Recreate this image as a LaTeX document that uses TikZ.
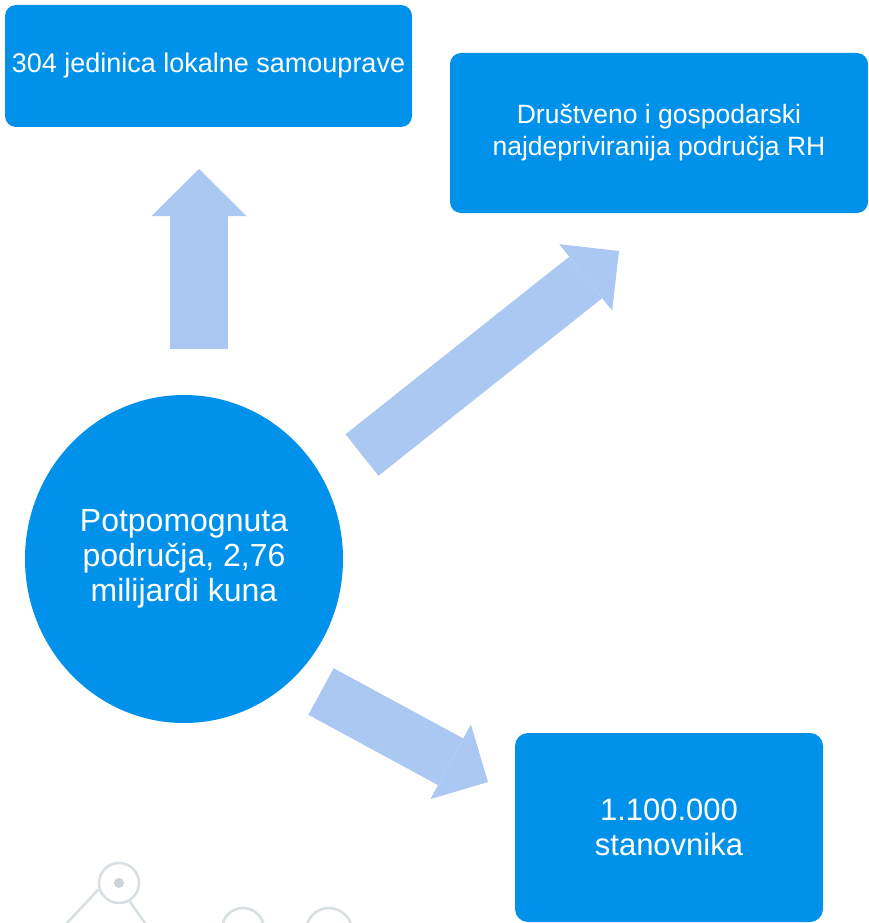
\documentclass[tikz,border=0pt]{standalone}
\usepackage{fontspec}
\setmainfont{Liberation Sans}
\usetikzlibrary{shapes.geometric,arrows.meta}
\definecolor{boxblue}{RGB}{0,145,234}
\definecolor{arrowblue}{RGB}{171,200,242}
\definecolor{decogray}{RGB}{216,223,227}
\definecolor{dotgray}{RGB}{205,213,218}
\begin{document}
\begin{tikzpicture}[x=1pt,y=-1pt,
		box/.style={rectangle, rounded corners=11pt, fill=boxblue, text=white, align=center, inner sep=0pt},
		hub/.style={ellipse, fill=boxblue, text=white, align=center, inner sep=0pt},
		fatarrow/.style={draw=arrowblue, line width=53pt, -{Triangle[length=42.5pt,width=85pt,line width=0pt]}},
		ring/.style={circle, draw=decogray, line width=2.5pt, fill=white, inner sep=0pt},
		dot/.style={circle, fill=dotgray, minimum size=10pt, inner sep=0pt}]
		\useasboundingbox (0,0) rectangle (869,923);
		\clip (0,0) rectangle (869,923);
		
		% faint tree in the corner
		\node[ring, minimum size=40pt] (r1) at (119,883) {};
		\node[ring, minimum size=42pt] (r2) at (243,929) {};
		\node[ring, minimum size=46pt] (r3) at (329,931) {};
		\coordinate (lf) at (53,938);
		\coordinate (rt) at (155,937);
		\draw[decogray, line width=2.5pt] (r1.197) -- (lf);
		\draw[decogray, line width=2.5pt] (r1.-60) -- (rt);
		\node[dot] (d1) at (r1) {};
		\node[dot] (d2) at (r2) {};
		
		\node[box, minimum width=407pt, minimum height=122pt, font=\fontsize{27pt}{32pt}\selectfont] (units) at (208.5,66) {304 jedinica lokalne samouprave};
		\node[box, minimum width=418pt, minimum height=160pt, font=\fontsize{26.5pt}{32pt}\selectfont] (deprived) at (659,133) {Društveno i gospodarski\\najdepriviranija područja RH};
		\node[box, minimum width=308pt, minimum height=189pt, rounded corners=13pt, font=\fontsize{31pt}{35pt}\selectfont] (people) at (669,827.5) {1.100.000\\stanovnika};
		\node[hub, minimum width=318pt, minimum height=328pt, font=\fontsize{32pt}{35pt}\selectfont] (hub) at (184,559) {Potpomognuta\\područja, 2,76\\milijardi kuna};
		
		\coordinate (up0) at (199,349);
		\coordinate (up1) at (199,169);
		\coordinate (ne0) at (362,455);
		\coordinate (ne1) at (619,251);
		\coordinate (se0) at (321,691.5);
		\coordinate (se1) at (488,782);
		
		\draw[fatarrow, line width=58pt, -{Triangle[length=47pt,width=95pt,line width=0pt]}] (up0) -- (up1);
		\draw[fatarrow] (ne0) -- (ne1);
		\draw[fatarrow] (se0) -- (se1);
	\end{tikzpicture}
\end{document}
